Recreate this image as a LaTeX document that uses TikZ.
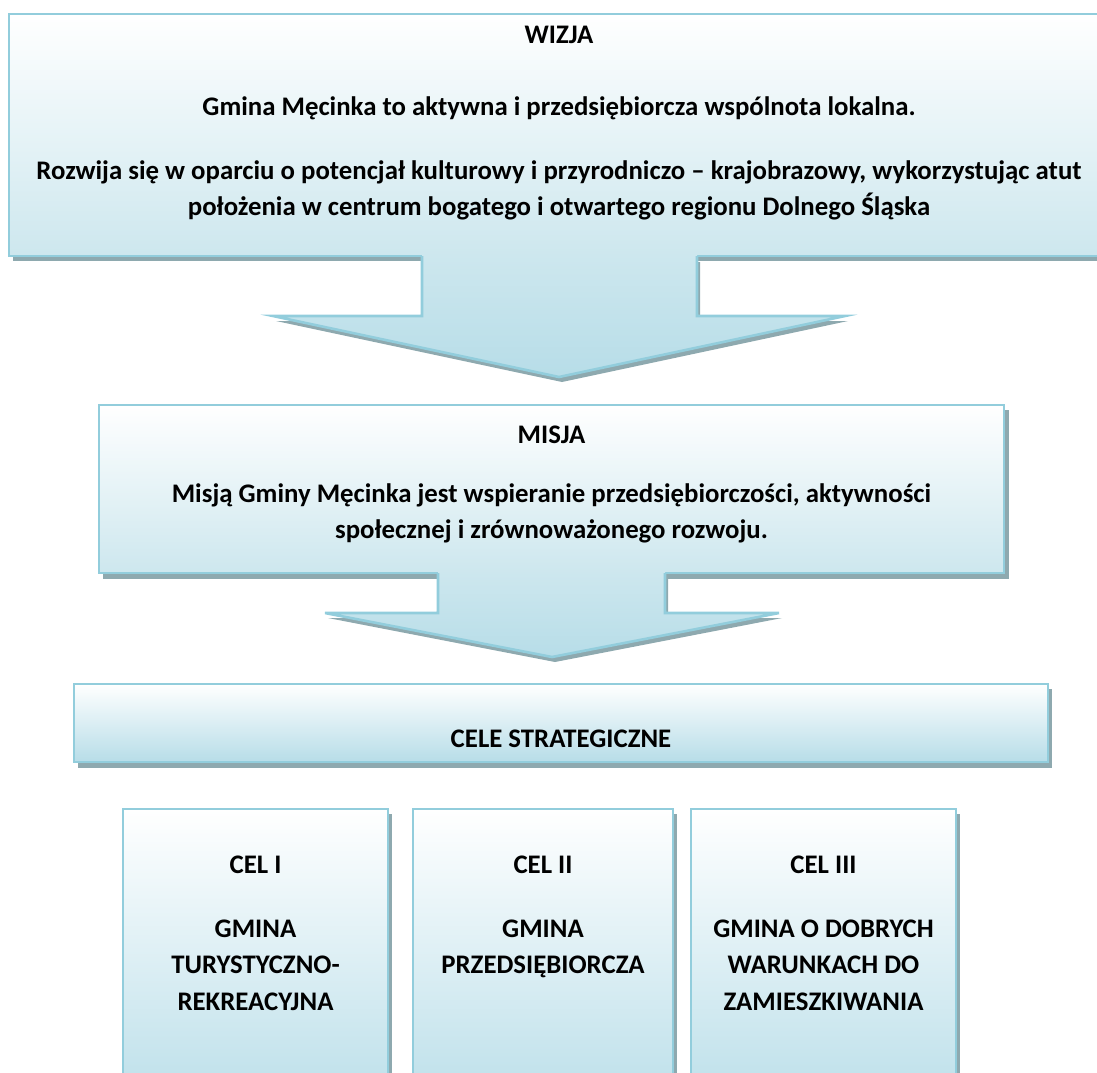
\documentclass[tikz,border=0pt]{standalone}
\usepackage{fontspec}
\setmainfont{Carlito}
\definecolor{bord}{HTML}{92CDDC}
\definecolor{shad}{HTML}{8EA9AF}
\definecolor{blA}{HTML}{CDE7EE}
\definecolor{blB}{HTML}{B7DDE8}
\tikzset{
  boxborder/.style={draw=bord, line width=2.6pt},
  shadowfill/.style={fill=shad},
  txt/.style={font=\fontsize{26.8}{30}\selectfont\bfseries, anchor=base, inner sep=0pt, text=black},
}
\begin{document}
\begin{tikzpicture}[x=1pt,y=-1pt]
\useasboundingbox (0,0) rectangle (1097,1072);
\clip (0,0) rectangle (1097,1072);
% ---------- WIZJA box and arrow 1
\fill[shadowfill] (13,19) rectangle (1125,261);
\fill[shadowfill] (425,262) -- (425,321) -- (276,321) -- (562,382) -- (848,321) -- (700,321) -- (700,262) -- cycle;
\shade[top color=white, bottom color=blA, boxborder] (9,14) rectangle (1120,256);
\shade[top color=blA, bottom color=blB] (422,255) -- (422,316) -- (273,316) -- (559,377) -- (845,316) -- (697,316) -- (697,255) -- cycle;
\draw[boxborder, line join=miter] (422,256) -- (422,316) -- (273,316) -- (559,377) -- (845,316) -- (697,316) -- (697,256);
% ---------- MISJA box and arrow 2
\fill[shadowfill] (103,410) rectangle (1009,579);
\fill[shadowfill] (441,578) -- (441,618) -- (328,618) -- (555,662) -- (782,618) -- (668,618) -- (668,578) -- cycle;
\shade[top color=white, bottom color=blA, boxborder] (99,405) rectangle (1004,573);
\shade[top color=blA, bottom color=blB] (438,572) -- (438,613) -- (325,613) -- (552,657) -- (779,613) -- (665,613) -- (665,572) -- cycle;
\draw[boxborder, line join=miter] (438,573) -- (438,613) -- (325,613) -- (552,657) -- (779,613) -- (665,613) -- (665,573);
% ---------- CELE STRATEGICZNE
\fill[shadowfill] (78,689) rectangle (1052,768);
\shade[top color=white, bottom color=blB, boxborder] (74,684) rectangle (1048,762);
% ---------- CEL boxes
\fill[shadowfill] (127,814) rectangle (392,1130);
\shade[top color=white, bottom color=blB, boxborder] (123,809) rectangle (388,1125);
\fill[shadowfill] (417,814) rectangle (677,1130);
\shade[top color=white, bottom color=blB, boxborder] (413,809) rectangle (673,1125);
\fill[shadowfill] (695,814) rectangle (960,1130);
\shade[top color=white, bottom color=blB, boxborder] (691,809) rectangle (956,1125);
% ---------- texts
\node[txt] (wizja) at (559,43) {WIZJA};
\node[txt] (wiz1) at (559,115) {Gmina Męcinka to aktywna i przedsiębiorcza wspólnota lokalna.};
\node[txt] (wiz2) at (559,179) {Rozwija się w oparciu o potencjał kulturowy i przyrodniczo – krajobrazowy, wykorzystując atut};
\node[txt] (wiz3) at (559,215) {położenia w centrum bogatego i otwartego regionu Dolnego Śląska};
\node[txt] (misja) at (551.5,443) {MISJA};
\node[txt] (mis1) at (551.5,502) {Misją Gminy Męcinka jest wspieranie przedsiębiorczości, aktywności};
\node[txt] (mis2) at (551.5,538) {społecznej i zrównoważonego rozwoju.};
\node[txt] (cele) at (561,747) {CELE STRATEGICZNE};
\node[txt] (c1a) at (255.5,873) {CEL I};
\node[txt] (c1b) at (255.5,937) {GMINA};
\node[txt] (c1c) at (255.5,973) {TURYSTYCZNO-};
\node[txt] (c1d) at (255.5,1010) {REKREACYJNA};
\node[txt] (c2a) at (543,873) {CEL II};
\node[txt] (c2b) at (543,937) {GMINA};
\node[txt] (c2c) at (543,973) {PRZEDSIĘBIORCZA};
\node[txt] (c3a) at (823.5,873) {CEL III};
\node[txt] (c3b) at (823.5,937) {GMINA O DOBRYCH};
\node[txt] (c3c) at (823.5,973) {WARUNKACH DO};
\node[txt] (c3d) at (823.5,1010) {ZAMIESZKIWANIA};
\end{tikzpicture}
\end{document}
